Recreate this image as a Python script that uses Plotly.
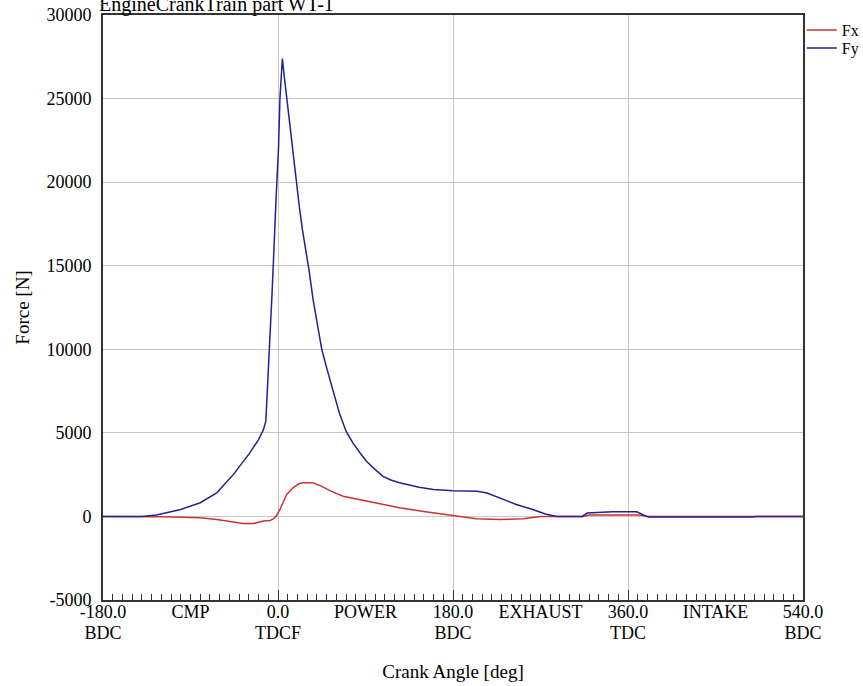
import plotly.graph_objects as go

# Crank angle [deg] and forces [N]
angle_fx = [-180, -140, -120, -100, -80, -63, -50, -36, -25, -15, -8, -5, -2, 0.3, 2, 5, 9, 15, 22,
            26, 36, 45, 55, 67, 80, 100, 118, 125, 150, 179, 190, 204, 229, 252, 260, 270, 314,
            320, 372, 380, 540]
fx = [0, 0, -20, -50, -80, -180, -280, -420, -420, -280, -240, -150, 0, 220, 418, 800, 1310, 1700, 1970,
      2010, 2010, 1800, 1500, 1210, 1050, 820, 615, 520, 300, 60, -50, -140, -180, -140, -80, 0, 0,
      80, 80, 0, 0]

angle_fy = [-180, -140, -125, -114, -100, -80, -63, -46, -29, -20, -15, -12.5, -10.3, -6, -2, 0.5, 2,
            4.5, 6.5, 9, 14, 19, 22, 25, 28.5, 32, 36, 40, 45, 50, 56, 63, 70, 77, 85, 91, 100, 108,
            116, 125, 145, 160, 180, 205, 215, 228, 245, 262, 275, 287, 313, 318, 328, 336, 344, 369,
            376, 381, 487, 492, 540]
fy = [0, 0, 80, 220, 420, 820, 1410, 2500, 3800, 4600, 5190, 5700, 8200, 13500, 19000, 22000, 25000,
      27400, 26300, 25000, 22500, 20000, 18500, 17200, 16000, 14700, 13000, 11600, 10000, 8900, 7600,
      6200, 5100, 4400, 3750, 3300, 2800, 2400, 2180, 2010, 1750, 1610, 1530, 1510, 1400, 1115, 716,
      418, 150, 0, 0, 200, 220, 250, 280, 280, 100, -40, -40, 0, 0]

x_label_vals = [-180, -90, 0, 90, 180, 270, 360, 450, 540]
x_label_text = ["-180.0", "CMP", "0.0", "POWER", "180.0", "EXHAUST", "360.0", "INTAKE", "540.0"]
x_major_vals = [-180, 0, 180, 360, 540]
x_major_text = ["BDC", "TDCF", "BDC", "TDC", "BDC"]
y_tick_vals = [-5000, 0, 5000, 10000, 15000, 20000, 25000, 30000]
y_tick_text = ["-5000", "0", "5000", "10000", "15000", "20000", "25000", "30000"]

FONT = "Liberation Serif"
GRID = "#c8c8c8"
AXC = "#333333"

fig = go.Figure()
fig.add_trace(go.Scatter(x=angle_fx, y=fx, mode="lines", name="Fx", legend="legend",
                         line=dict(color="#cc3333", width=1.5)))
fig.add_trace(go.Scatter(x=angle_fy, y=fy, mode="lines", name="Fy", legend="legend2",
                         line=dict(color="#23238f", width=1.5)))
# helper trace so the overlay axis (grid, ticks, 2nd label row) is rendered
fig.add_trace(go.Scatter(x=[None], y=[None], xaxis="x2", showlegend=False, hoverinfo="skip"))

leg_common = dict(xref="container", yref="container", x=0.929, xanchor="left", yanchor="middle",
                  font=dict(size=16, family=FONT), bgcolor="rgba(0,0,0,0)", itemwidth=30)

fig.update_layout(
    width=863, height=686,
    margin=dict(l=103, r=60, t=15, b=86, autoexpand=False),
    paper_bgcolor="white", plot_bgcolor="white",
    font=dict(family=FONT, size=18, color="black"),
    showlegend=True,
    legend=dict(y=1 - 30 / 686, **leg_common),
    legend2=dict(y=1 - 48 / 686, **leg_common),
    xaxis=dict(range=[-180, 540], tickmode="array", tickvals=x_label_vals, ticktext=x_label_text,
               ticks="", showgrid=False, zeroline=False, showline=True, linecolor=AXC,
               linewidth=2, mirror=True, tickfont=dict(size=18), automargin=False,
               ticklabelstandoff=-6,
               title=dict(text="Crank Angle [deg]", font=dict(size=19), standoff=44)),
    xaxis2=dict(range=[-180, 540], overlaying="x", anchor="y", side="bottom",
                tickmode="array", tickvals=x_major_vals, ticktext=x_major_text,
                showticklabels=True, tickfont=dict(size=18), ticklabelstandoff=20,
                ticks="inside", ticklen=10, tickcolor=AXC, tickwidth=1, automargin=False,
                showgrid=True, gridcolor=GRID, gridwidth=1, zeroline=False, showline=False,
                minor=dict(tickmode="linear", tick0=-180, dtick=10, ticks="inside", ticklen=6,
                           tickcolor=AXC, tickwidth=1, showgrid=False)),
    yaxis=dict(range=[-5000, 30000], tickmode="array", tickvals=y_tick_vals, ticktext=y_tick_text,
               ticks="", showgrid=True, gridcolor=GRID, gridwidth=1, zeroline=False,
               showline=True, linecolor=AXC, linewidth=2, mirror=True, automargin=False,
               tickfont=dict(size=18), ticklabelstandoff=6,
               title=dict(text="Force [N]", font=dict(size=19), standoff=12)),
    annotations=[dict(text="EngineCrankTrain part WT-1", xref="paper", yref="paper",
                      x=-0.009, y=1.0, xanchor="left", yanchor="bottom", showarrow=False,
                      font=dict(size=20, family=FONT), yshift=-3)],
)

fig.write_html("out.html", config={"displayModeBar": False},
               post_script="document.body.style.margin='0';")
